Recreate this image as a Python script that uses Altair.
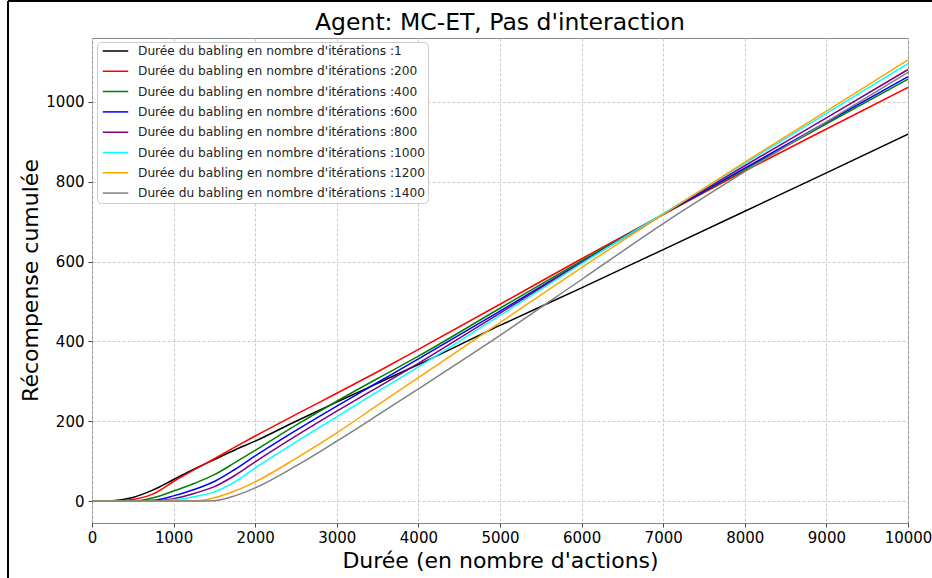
import altair as alt
import pandas as pd

# --- data -------------------------------------------------------------------
steps = [0, 250, 500, 750, 1000, 1250, 1500, 1750, 2000, 2500, 3000, 3500,
         4000, 5000, 6000, 7000, 8000, 9000, 10000]

durations = [1, 200, 400, 600, 800, 1000, 1200, 1400]
colors = ["#000000", "#ff0000", "#008000", "#0000ff", "#800080",
          "#00ffff", "#ffa500", "#808080"]

s_1 =    [0, 1, 9, 28, 54, 80, 104, 128, 150, 200, 248, 295, 342, 440, 534, 630, 726, 822, 919]
s_200 =  [0, 0, 4, 18, 49, 78, 106, 135, 163, 217, 270, 324, 380, 493, 607, 718, 827, 932, 1036]
s_400 =  [0, 0, 0, 8, 25, 44, 66, 96, 127, 190, 250, 307, 363, 483, 602, 718, 831, 945, 1057]
s_600 =  [0, 0, 0, 2, 13, 29, 49, 79, 113, 177, 238, 297, 356, 476, 598, 718, 834, 949, 1063]
s_800 =  [0, 0, 0, 0, 6, 19, 36, 64, 98, 163, 225, 285, 345, 471, 597, 719, 840, 960, 1081]
s_1000 = [0, 0, 0, 0, 3, 11, 23, 48, 83, 148, 211, 274, 336, 465, 595, 720, 846, 971, 1096]
s_1200 = [0, 0, 0, 0, 0, 0, 8, 25, 48, 107, 171, 240, 309, 447, 585, 718, 849, 977, 1105]
s_1400 = [0, 0, 0, 0, 0, 0, 1, 13, 33, 88, 150, 215, 281, 415, 555, 695, 825, 950, 1074]

series = [s_1, s_200, s_400, s_600, s_800, s_1000, s_1200, s_1400]
labels = [f"Durée du babling en nombre d'itérations :{d}" for d in durations]

x_ticks = list(range(0, 10001, 1000))
y_ticks = [0, 200, 400, 600, 800, 1000]
title_text = "Agent: MC-ET, Pas d'interaction"

rows = []
for lab, vals in zip(labels, series):
    for x, v in zip(steps, vals):
        rows.append({"x": x, "y": v, "serie": lab})
df = pd.DataFrame(rows)

FONT = "DejaVu Sans"

lines = alt.Chart(df).mark_line(strokeWidth=1.5, interpolate="monotone", clip=True).encode(
    x=alt.X("x:Q",
            scale=alt.Scale(domain=[0, 10000], nice=False, zero=False),
            axis=alt.Axis(values=x_ticks, format="d", title="Durée (en nombre d'actions)",
                          titleX=408, titleY=37, titleBaseline="middle", titleAlign="center",
                          labelPadding=3, labelFlush=False)),
    y=alt.Y("y:Q",
            scale=alt.Scale(domain=[-55, 1160], nice=False, zero=False),
            axis=alt.Axis(values=y_ticks, format="d", title="Récompense cumulée",
                          titleX=-62, titleY=242, titleAngle=-90,
                          titleBaseline="middle", titleAlign="center",
                          labelPadding=4, labelFlush=False)),
    color=alt.Color("serie:N",
                    scale=alt.Scale(domain=labels, range=colors),
                    sort=labels,
                    legend=alt.Legend(title=None, orient="none", legendX=5, legendY=4,
                                      symbolType="stroke", symbolSize=650,
                                      symbolStrokeWidth=1.5, symbolOffset=3,
                                      labelFont=FONT, labelFontSize=12.2, labelColor="#222222",
                                      labelOffset=9, labelLimit=500,
                                      fillColor="white", strokeColor="#cccccc",
                                      cornerRadius=4, padding=2,
                                      clipHeight=14, rowPadding=6.3)),
)

title_mark = alt.Chart(pd.DataFrame({"t": [title_text]})).mark_text(
    font=FONT, fontSize=23.5, color="black", align="center", baseline="alphabetic"
).encode(text="t:N", x=alt.value(408), y=alt.value(-8))

frame_left = alt.Chart(df).mark_rule(color="black", strokeWidth=1).encode(
    x=alt.value(-84), y=alt.value(-37), y2=alt.value(560))
frame_top = alt.Chart(df).mark_rule(color="black", strokeWidth=1).encode(
    x=alt.value(-84), x2=alt.value(860), y=alt.value(-37))

chart = alt.layer(lines, title_mark, frame_left, frame_top).properties(
    width=816, height=485,
    autosize=alt.AutoSizeParams(type="none"),
    padding={"left": 92, "top": 38, "right": 24, "bottom": 55},
    background="white",
).configure_view(
    stroke="#888888", strokeWidth=1
).configure_axis(
    labelFont=FONT, labelFontSize=15, labelColor="black",
    titleFont=FONT, titleFontSize=22, titleFontWeight="normal", titleColor="black",
    domain=False, tickSize=4, tickColor="#444444", tickWidth=1,
    grid=True, gridColor="#c4c4c4", gridDash=[3, 2], gridWidth=0.9,
)

chart.save("out.html", embed_options={"renderer": "svg", "actions": False})
